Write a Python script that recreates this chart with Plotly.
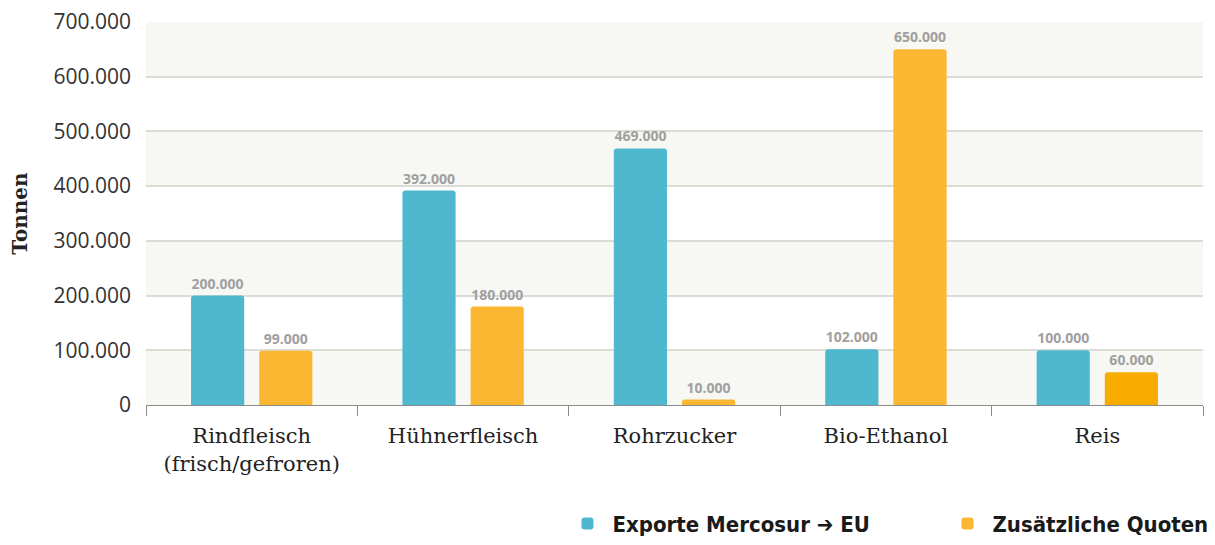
import plotly.graph_objects as go

categories = ["Rindfleisch<br>(frisch/gefroren)", "Hühnerfleisch", "Rohrzucker", "Bio-Ethanol", "Reis"]
exporte = [200000, 392000, 469000, 102000, 100000]
quoten = [99000, 180000, 10000, 650000, 60000]
y_ticks = [0, 100000, 200000, 300000, 400000, 500000, 600000, 700000]

BLUE = "#4fb8cf"
ORANGE = "#fbb731"
ORANGE_HL = "#f9ac00"
GRID = "#dcdcd4"
BAND = "#f7f7f3"
SERIF = "DejaVu Serif"
SANS = "Open Sans"
COND = "DejaVu Sans Condensed"

label_font = dict(family=SANS, size=14, color="#a0a0a0", weight="bold")

fig = go.Figure()
fig.add_trace(go.Bar(
    x=categories, y=exporte, name="Exporte Mercosur \u2794 EU",
    marker=dict(color=BLUE, cornerradius=3, line=dict(width=0)),
    texttemplate="%{y:,.0f}", textposition="outside", textfont=label_font,
    cliponaxis=False,
))
fig.add_trace(go.Bar(
    x=categories, y=quoten, name="Zusätzliche Quoten",
    marker=dict(color=[ORANGE] * (len(quoten) - 1) + [ORANGE_HL], cornerradius=3, line=dict(width=0)),
    texttemplate="%{y:,.0f}", textposition="outside", textfont=label_font,
    cliponaxis=False,
))

# alternating background bands (every other 100k step)
for lo in y_ticks[:-1:2]:
    fig.add_shape(type="rect", xref="paper", yref="y", x0=0, x1=1, y0=lo, y1=lo + 100000,
                  fillcolor=BAND, line=dict(width=0), layer="below")

# page body has an 8px margin, so the figure is sized to fit the window
fig.update_layout(
    width=1207, height=537,
    margin=dict(l=138, r=12, t=14, b=140, autoexpand=False),
    paper_bgcolor="white", plot_bgcolor="white",
    separators=",.",
    barmode="group", bargap=0.355, bargroupgap=0.22,
    uniformtext=dict(minsize=8, mode="show"),
    legend=dict(orientation="h", x=0.394, xanchor="left", y=-0.31, yanchor="middle",
                font=dict(family=COND, size=22, color="#1a1a1a", weight="bold"),
                itemwidth=40, entrywidth=325, traceorder="normal"),
    xaxis=dict(
        showline=True, linecolor="#8c8c8c", linewidth=1,
        ticks="outside", tickson="boundaries", ticklen=10, tickcolor="#8c8c8c",
        ticklabelstandoff=12,
        tickfont=dict(family=SERIF, size=21, color="#222"),
        showgrid=False, automargin=False,
    ),
    yaxis=dict(
        range=[0, 700000], tickvals=y_ticks, tickformat=",.0f",
        showgrid=True, gridcolor=GRID, gridwidth=1.5,
        zeroline=False, showline=False, ticks="",
        ticklabelstandoff=14, automargin=False, ticklabeloverflow="allow",
        tickfont=dict(family=SANS, size=21, color="#333"),
        title=dict(text="Tonnen", standoff=26,
                   font=dict(family=SERIF, size=20, color="#222", weight="bold")),
    ),
)

fig.write_html("out.html")
